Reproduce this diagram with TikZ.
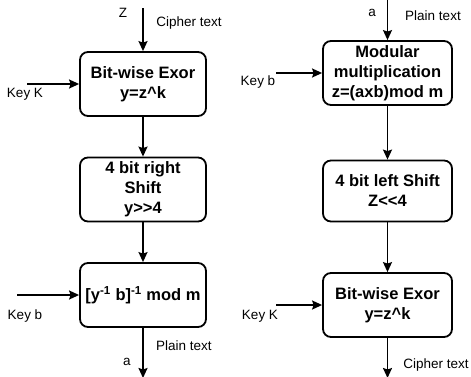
\documentclass[tikz,border=0pt]{standalone}
\usepackage{fontspec}
\setmainfont{Liberation Sans}
\usetikzlibrary{arrows.meta}
\tikzset{
    block/.style={draw,line width=1.8pt,rounded corners=8pt,align=center,
        inner sep=0pt,font=\fontsize{16.5}{20}\selectfont\bfseries},
    lbl/.style={inner sep=0pt,font=\fontsize{13.5}{16}\selectfont},
    flow/.style={-{Stealth[length=10pt,width=9pt,inset=1.5pt]},line width=1.7pt}
}
\begin{document}
\begin{tikzpicture}[x=1pt,y=-1pt]
  \useasboundingbox (0,0) rectangle (471,376);
  % Decryption (left)
  \node[block,minimum width=126pt,minimum height=64pt] (dxor) at (143,84)
        {Bit-wise Exor\\y=z\^{}k};
  \node[block,minimum width=126pt,minimum height=64pt] (dshift) at (143,189.5)
        {4 bit right\\Shift\\y>{}>4};
  \node[block,minimum width=126pt,minimum height=64pt] (dinv) at (143,295)
        {[y\textsuperscript{-1} b]\textsuperscript{-1} mod m};
  \coordinate (din)   at (143,8);
  \coordinate (dout)  at (143,378);
  \coordinate (dkeyk) at (27,84);
  \coordinate (dkeyb) at (17,295);
  \draw[flow] (din) -- (dxor);
  \draw[flow] (dxor) -- (dshift);
  \draw[flow] (dshift) -- (dinv);
  \draw[flow] (dinv) -- (dout);
  \draw[flow] (dkeyk) -- (dxor);
  \draw[flow] (dkeyb) -- (dinv);
  \node[lbl] (dz) at (123,13) {Z};
  \node[lbl] (dcipher) at (189,23) {Cipher text};
  \node[lbl] (dkk) at (25,94) {Key K};
  \node[lbl] (dkb) at (25,316) {Key b};
  \node[lbl] (dplain) at (184,346) {Plain text};
  \node[lbl] (da) at (127,362) {a};
  % Encryption (right)
  \node[block,minimum width=129pt,minimum height=64pt] (emul) at (387.5,73)
        {Modular\\multiplication\\z=(axb)mod m};
  \node[block,minimum width=129pt,minimum height=61pt] (eshift) at (387.5,191)
        {4 bit left Shift\\Z<{}<4};
  \node[block,minimum width=129pt,minimum height=64pt] (exor) at (387.5,305)
        {Bit-wise Exor\\y=z\^{}k};
  \coordinate (ein)   at (387.5,-2);
  \coordinate (eout)  at (387.5,378);
  \coordinate (ekeyb) at (276,73);
  \coordinate (ekeyk) at (276,305);
  \draw[flow] (ein) -- (emul);
  \draw[flow] (emul) -- (eshift);
  \draw[flow] (eshift) -- (exor);
  \draw[flow] (exor) -- (eout);
  \draw[flow] (ekeyb) -- (emul);
  \draw[flow] (ekeyk) -- (exor);
  \node[lbl] (ea) at (372,13) {a};
  \node[lbl] (eplain) at (433,16) {Plain text};
  \node[lbl] (ekb) at (258,82) {Key b};
  \node[lbl] (ekk) at (260,316) {Key K};
  \node[lbl] (ecipher) at (436,365) {Cipher text};
\end{tikzpicture}
\end{document}
